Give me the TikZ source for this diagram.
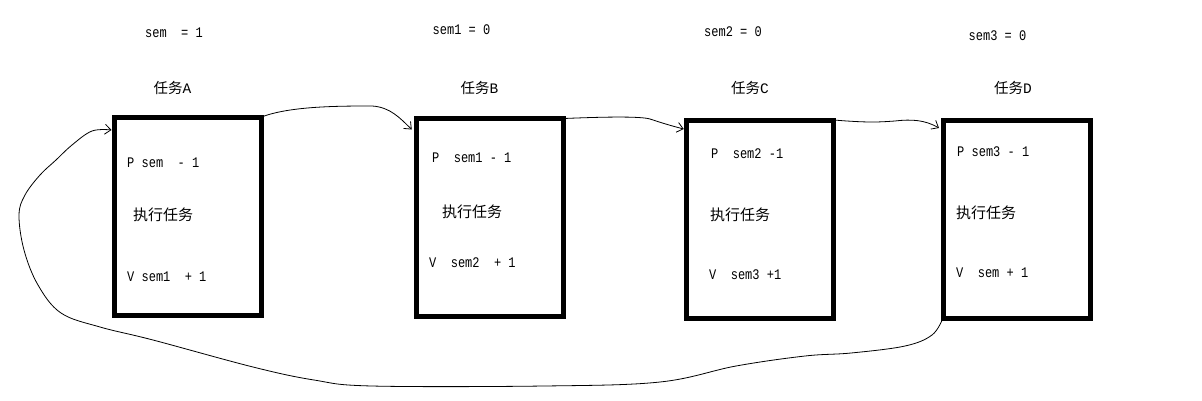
\documentclass[tikz,border=0pt]{standalone}
\usepackage{fontspec}
\setmainfont{Liberation Mono}
\newfontfamily\cjk{Noto Sans CJK SC}
\usetikzlibrary{arrows.meta}
\newcommand{\talltxt}[1]{\scalebox{1}[1.22]{#1}}
\begin{document}
\begin{tikzpicture}[x=1pt,y=-1pt,
  box/.style={draw, line width=5pt, minimum width=147pt, minimum height=198pt, inner sep=0pt, outer sep=0pt},
  lbl/.style={font=\fontsize{12}{12}\selectfont, inner sep=0pt, anchor=west},
  sem/.style={font=\fontsize{12}{12}\selectfont, inner sep=0pt},
  title/.style={font=\fontsize{14.5}{15}\selectfont, inner sep=0pt},
  cn/.style={font=\cjk\fontsize{15}{15}\selectfont, inner sep=0pt, anchor=west},
  arr/.style={line width=0.8pt, -{Straight Barb[length=6pt,width=10pt]}}]
\useasboundingbox (0,0) rectangle (1202,400);

% boxes
\node[box] (A) at (188,216) {};
\node[box] (B) at (490.25,217.5) {};
\node[box] (C) at (760.25,219) {};
\node[box] (D) at (1016.5,219) {};

% semaphore values
\node[sem] (sA) at (174,33) {\talltxt{sem~~=~1}};
\node[sem] (sB) at (461.5,30) {\talltxt{sem1~=~0}};
\node[sem] (sC) at (733,32) {\talltxt{sem2~=~0}};
\node[sem] (sD) at (997.5,36) {\talltxt{sem3~=~0}};

% task titles
\node[title] (tA) at (172.5,88) {{\cjk 任务}A};
\node[title] (tB) at (479.5,88) {{\cjk 任务}B};
\node[title] (tC) at (750,88) {{\cjk 任务}C};
\node[title] (tD) at (1013,88) {{\cjk 任务}D};

% box contents
\node[lbl] (pA) at (127,163) {\talltxt{P~sem~~-~1}};
\node[cn]  (eA) at (133,215) {执行任务};
\node[lbl] (vA) at (127,277) {\talltxt{V~sem1~~+~1}};

\node[lbl] (pB) at (432,158) {\talltxt{P~~sem1~-~1}};
\node[cn]  (eB) at (442,212) {执行任务};
\node[lbl] (vB) at (429,263) {\talltxt{V~~sem2~~+~1}};

\node[lbl] (pC) at (711,154) {\talltxt{P~~sem2~-1}};
\node[cn]  (eC) at (710,215) {执行任务};
\node[lbl] (vC) at (709,275) {\talltxt{V~~sem3~+1}};

\node[lbl] (pD) at (957,152) {\talltxt{P~sem3~-~1}};
\node[cn]  (eD) at (956,213) {执行任务};
\node[lbl] (vD) at (956,273) {\talltxt{V~~sem~+~1}};

% connectors
\draw[arr] (A.north east) .. controls (290,106) and (340,106) .. (372,106)
  .. controls (390,107) and (400,118) .. ([xshift=-5pt,yshift=-11pt]B.north west);
\draw[arr] (B.north east) .. controls (600,117) and (640,116) .. (650,119)
  .. controls (662,123) and (672,126) .. ([xshift=-3pt,yshift=-9pt]C.north west);
\draw[arr] (C.north east) .. controls (870,123) and (880,122) .. (895,121)
  .. controls (912,119) and (925,120) .. ([xshift=-4pt,yshift=-8pt]D.north west);
\draw[arr] plot[smooth, tension=0.6] coordinates {(D.south west) (932,335) (905,346) (851,353) (805,356) (736,366) (660,382) (544,386) (372,386) (314,380) (253,367) (153,340) (100,327) (61,313) (38,285) (24,250) (19,215) (25,195) (40,175) (56,160) (72,145) (92,131) ([xshift=-3pt,yshift=-13pt]A.north west)};
\end{tikzpicture}
\end{document}
